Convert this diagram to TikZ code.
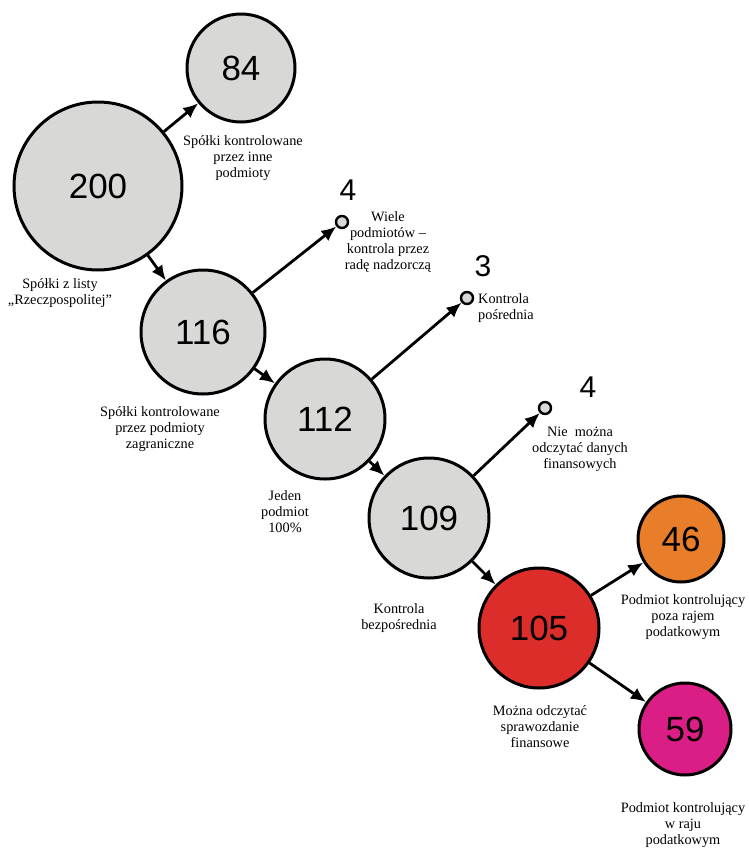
\documentclass[tikz,border=0pt]{standalone}
\usepackage{fontspec}
\setmainfont{Liberation Serif}
\newfontfamily\numfont{Liberation Sans}
\usetikzlibrary{arrows.meta}
\definecolor{cgrey}{RGB}{216,217,215}
\definecolor{cred}{RGB}{221,45,42}
\definecolor{corange}{RGB}{232,125,42}
\definecolor{cmagenta}{RGB}{219,30,133}
\tikzset{
  bubble/.style={circle, draw=black, line width=3pt, inner sep=0pt, fill=cgrey,
    font=\numfont\fontsize{35}{35}\selectfont},
  dot/.style={circle, draw=black, line width=2.4pt, inner sep=0pt, minimum size=12pt, fill=cgrey},
  smallnum/.style={font=\numfont\fontsize{30}{30}\selectfont, inner sep=0pt},
  lbl/.style={align=center, inner sep=0pt, font=\fontsize{14.3}{16}\selectfont},
  arr/.style={line width=2.8pt, -{Latex[length=15pt,width=13pt]}}
}
\begin{document}
\begin{tikzpicture}[x=1pt,y=-1pt]
\useasboundingbox (0,0) rectangle (749,849);
% bubbles
\node[bubble, minimum size=168pt] (c200) at (98,186) {200};
\node[bubble, minimum size=108pt] (c84) at (241,68) {84};
\node[bubble, minimum size=124pt] (c116) at (203,332) {116};
\node[bubble, minimum size=120pt] (c112) at (325,419) {112};
\node[bubble, minimum size=120pt] (c109) at (429,518) {109};
\node[bubble, minimum size=120pt, fill=cred] (c105) at (539,628) {105};
\node[bubble, minimum size=86pt, fill=corange] (c46) at (681,539) {46};
\node[bubble, minimum size=92pt, fill=cmagenta] (c59) at (685,729) {59};
% small dots
\node[dot] (d1) at (342,222) {};
\node[dot] (d2) at (467,298) {};
\node[dot] (d3) at (545,408) {};
\node[smallnum] (n1) at (348,190) {4};
\node[smallnum] (n2) at (483,266) {3};
\node[smallnum] (n3) at (588,387) {4};
% arrows
\draw[arr] (c200) -- (c84);
\draw[arr] (c200) -- (c116);
\draw[arr] (c116) -- (d1);
\draw[arr] (c116) -- (c112);
\draw[arr] (c112) -- (d2);
\draw[arr] (c112) -- (c109);
\draw[arr] (c109) -- (d3);
\draw[arr] (c109) -- (c105);
\draw[arr] (c105) -- (c46);
\draw[arr] (c105) -- (c59);
% labels
\node[lbl] (l84) at (243,158) {Spółki kontrolowane\\przez inne\\podmioty};
\node[lbl] (l200) at (60,293) {Spółki z listy\\„Rzeczpospolitej”};
\node[lbl] (ld1) at (388,242) {Wiele\\podmiotów –\\kontrola przez\\radę nadzorczą};
\node[lbl, align=left] (ld2) at (506,308) {Kontrola\\pośrednia};
\node[lbl] (ld3) at (580,449) {Nie\ \ można\\odczytać danych\\finansowych};
\node[lbl] (l116) at (160,429) {Spółki kontrolowane\\przez podmioty\\zagraniczne};
\node[lbl] (l112) at (285,512) {Jeden\\podmiot\\100\%};
\node[lbl] (l109) at (399,618) {Kontrola\\bezpośrednia};
\node[lbl] (l46) at (683,617) {Podmiot kontrolujący\\poza rajem\\podatkowym};
\node[lbl] (l105) at (540,727) {Można odczytać\\sprawozdanie\\finansowe};
\node[lbl] (l59) at (683,825) {Podmiot kontrolujący\\w raju\\podatkowym};
\end{tikzpicture}
\end{document}
